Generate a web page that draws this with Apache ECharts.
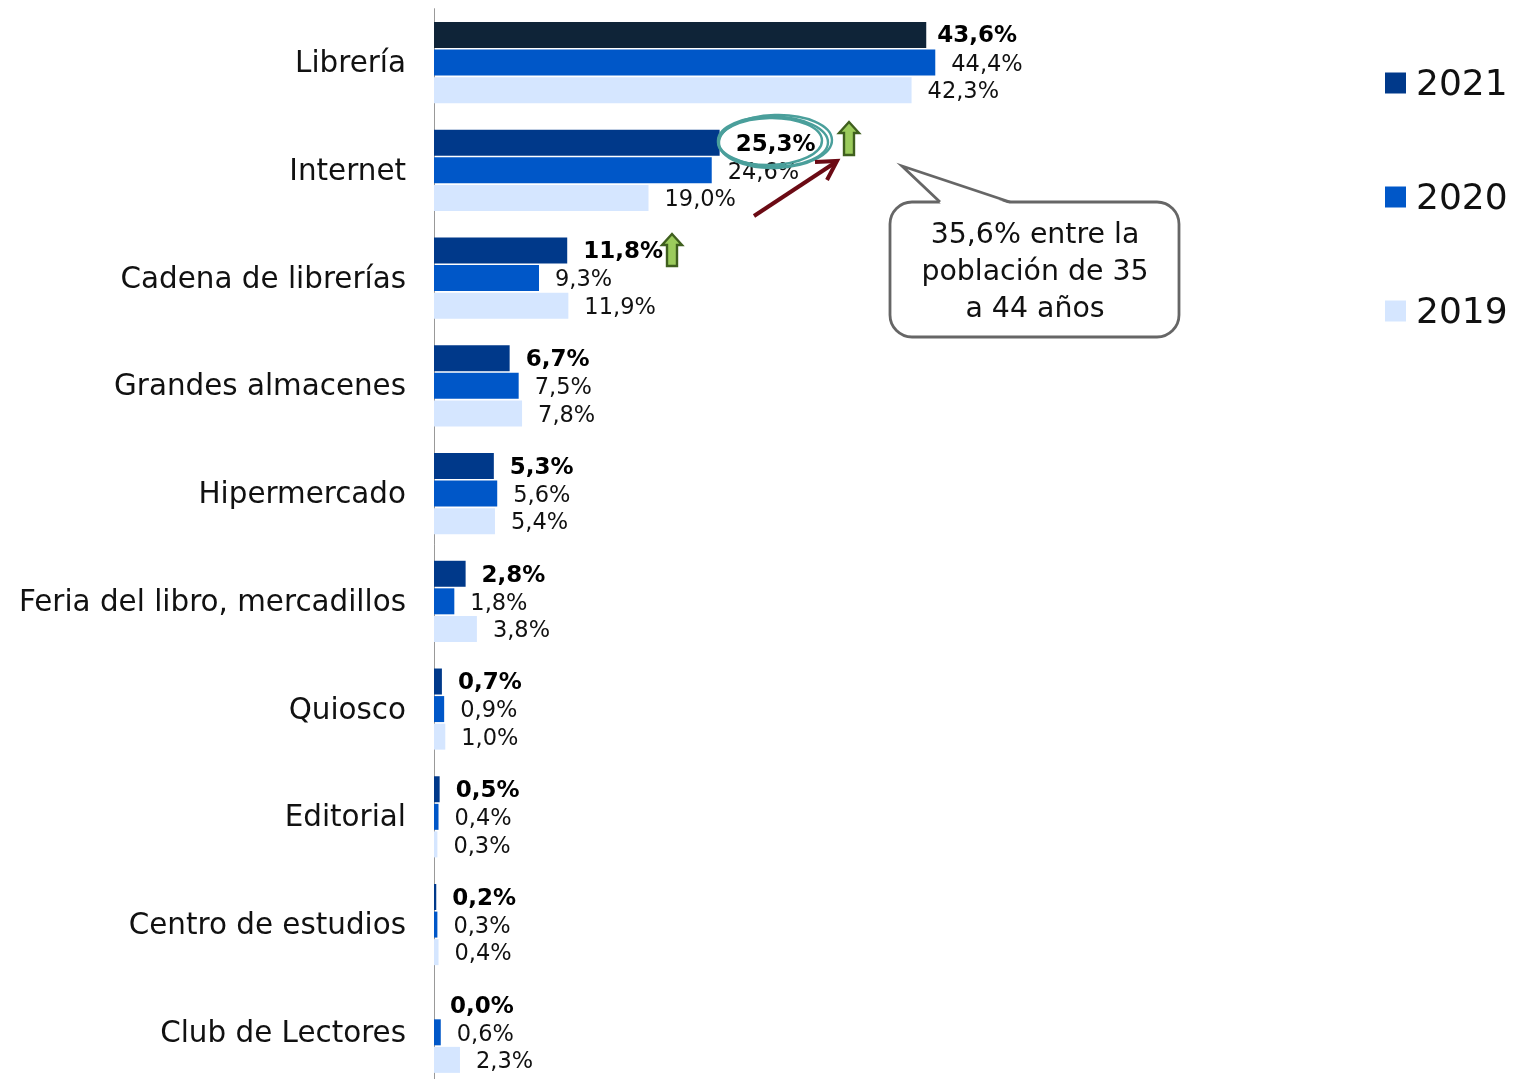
<!DOCTYPE html>
<html><head><meta charset="utf-8">
<style>html,body{margin:0;padding:0;background:#fff}#c{width:1514px;height:1079px}</style>
<script src="https://cdn.jsdelivr.net/npm/echarts@6/dist/echarts.min.js"></script>
</head><body><div id="c"></div>
<script>
const categories = ['Librería','Internet','Cadena de librerías','Grandes almacenes','Hipermercado','Feria del libro, mercadillos','Quiosco','Editorial','Centro de estudios','Club de Lectores'];
const years = ['2021','2020','2019'];
const values2021 = [43.6,25.3,11.8,6.7,5.3,2.8,0.7,0.5,0.2,0.0];
const values2020 = [44.4,24.6,9.3,7.5,5.6,1.8,0.9,0.4,0.3,0.6];
const values2019 = [42.3,19.0,11.9,7.8,5.4,3.8,1.0,0.3,0.4,2.3];
const colors = ['#00398A','#0057C8','#D5E6FF'];
const FONT = '"DejaVu Sans", Verdana, sans-serif';
const fmt = p => p.value.toFixed(1).replace('.', ',') + '%';

function upArrow(cx, top, bottom, headBase) {
  return {type:'polygon', z:20, shape:{points:[[cx,top],[cx+10,headBase],[cx+5,headBase],[cx+5,bottom],[cx-5,bottom],[cx-5,headBase],[cx-10,headBase]]},
    style:{fill:'#9BCB5C',stroke:'#3F5F1E',lineWidth:2.4}};
}
function ring(cx,cy,rx,ry,rot){
  return {type:'ellipse', z:19, x:cx, y:cy, rotation:rot, shape:{cx:0,cy:0,rx:rx,ry:ry}, style:{fill:'transparent',stroke:'#4A9F9B',lineWidth:2.4}};
}
const series = [values2021,values2020,values2019].map((vals,i)=>({
  name: years[i], type:'bar', barWidth:26, barGap:'6%',
  itemStyle:{color:colors[i]},
  label:{show:true,position:'right',distance:16,formatter:fmt,fontFamily:FONT,offset:[0,i===0?2:2.5],
    fontSize:i===0?23:22.5,fontWeight:i===0?'bold':'normal',color:i===0?'#000':'#111'},
  data: vals.map((v,j)=> (i===0&&j===0) ? {value:v,itemStyle:{color:'#0F2438'},label:{distance:11,offset:[0,1]}} : v),
  animation:false
}));
const chart = echarts.init(document.getElementById('c'));
chart.setOption({
  animation:false,
  grid:{left:434,top:8.7,width:1129,height:1077.5,containLabel:false,outerBoundsMode:'none'},
  xAxis:{type:'value',min:0,max:100,show:false},
  yAxis:{type:'category',inverse:true,data:categories,offset:1,
    axisLine:{show:true,lineStyle:{color:'#999',width:1}},axisTick:{show:false},
    axisLabel:{margin:27,formatter:'{a|{value}}',
      rich:{a:{fontFamily:FONT,fontSize:29.4,color:'#111',padding:[4,0,0,0]}}}},
  legend:{orient:'vertical',left:1380,top:57,itemWidth:21,itemHeight:21,itemGap:72,
    icon:'rect',data:years,formatter:'{a|{name}}',
    textStyle:{padding:[0,0,0,5],rich:{a:{fontFamily:FONT,fontSize:36,lineHeight:36,color:'#111',padding:[6,0,0,0]}}}},
  series,
  graphic:[
    ring(770,141.5,52,23.5,0.02), ring(773,141.5,55,25,-0.02), ring(775.5,141.5,56.5,26.5,0.03),
    upArrow(849,122,155,133), upArrow(672,234,266,245),
    {type:'polyline',z:20,shape:{points:[[754,216],[836,162]]},style:{stroke:'#6B0A14',lineWidth:4,fill:'none'}},
    {type:'polyline',z:20,shape:{points:[[815,162],[837,161],[827,180]]},style:{stroke:'#6B0A14',lineWidth:4,fill:'none'}},
    {type:'rect',z:15,shape:{x:890,y:202,width:289,height:135,r:22},style:{fill:'#fff',stroke:'#666',lineWidth:2.8}},
    {type:'polygon',z:15,shape:{points:[[941,204],[902,166],[1010,204]]},style:{fill:'#fff',stroke:'none'}},
    {type:'polyline',z:15,shape:{points:[[940,202],[902,166],[1010,202]]},style:{fill:'none',stroke:'#666',lineWidth:2.8}},
    {type:'text',z:16,x:1035,y:273,style:{text:'35,6% entre la\npoblación de 35\na 44 años',align:'center',verticalAlign:'middle',
      fontFamily:FONT,fontSize:28.4,lineHeight:37,fill:'#111'}}
  ]
});
</script></body></html>
